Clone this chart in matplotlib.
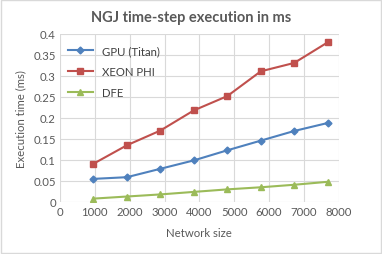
import matplotlib
matplotlib.use('Agg')
import matplotlib.pyplot as plt
import matplotlib.ticker as ticker
from matplotlib.patches import Rectangle

# Data
network_size = [960, 1920, 2880, 3840, 4800, 5760, 6720, 7680]
gpu_titan = [0.055, 0.059, 0.079, 0.099, 0.123, 0.146, 0.169, 0.188]
xeon_phi = [0.091, 0.135, 0.170, 0.218, 0.252, 0.311, 0.331, 0.380]
dfe = [0.008, 0.013, 0.018, 0.024, 0.030, 0.035, 0.041, 0.048]

plt.rcParams['font.family'] = ['Lato', 'DejaVu Sans']

fig = plt.figure(figsize=(3.82, 2.55), dpi=100)
ax = fig.add_axes([0.157, 0.204, 0.73, 0.659])

ax.plot(network_size, gpu_titan, color='#4F81BD', marker='D', markersize=3.5, linewidth=1.5, label='GPU (Titan)')
ax.plot(network_size, xeon_phi, color='#C0504D', marker='s', markersize=5, linewidth=1.5, label='XEON PHI')
ax.plot(network_size, dfe, color='#9BBB59', marker='^', markersize=5, linewidth=1.5, label='DFE')

ax.set_xlim(0, 8000)
ax.set_ylim(0, 0.4)
ax.xaxis.set_major_locator(ticker.MultipleLocator(1000))
ax.yaxis.set_major_locator(ticker.MultipleLocator(0.05))
ax.yaxis.set_major_formatter(ticker.FormatStrFormatter('%g'))

ax.grid(True, color='#D9D9D9', linewidth=0.8)
ax.set_axisbelow(True)
for s in ax.spines.values():
    s.set_visible(False)
ax.tick_params(length=0, labelsize=8.2, colors='#595959', pad=3)

ax.set_xlabel('Network size', fontsize=8.2, color='#595959', labelpad=7)
ax.set_ylabel('Execution time (ms)', fontsize=8.2, color='#595959', labelpad=5)
fig.suptitle('NGJ time-step execution in ms', fontsize=10.5, fontweight='bold', color='#595959', y=0.955)

ax.legend(loc='upper left', frameon=False, fontsize=8.2, labelcolor='#404040',
          handlelength=2.2, borderaxespad=0.3, labelspacing=0.85, bbox_to_anchor=(0.0, 0.98))

fig.patches.append(Rectangle((0.002, 0.004), 0.995, 0.992, transform=fig.transFigure,
                             fill=False, edgecolor='#D9D9D9', linewidth=1))

fig.savefig('out.png', dpi=100)
